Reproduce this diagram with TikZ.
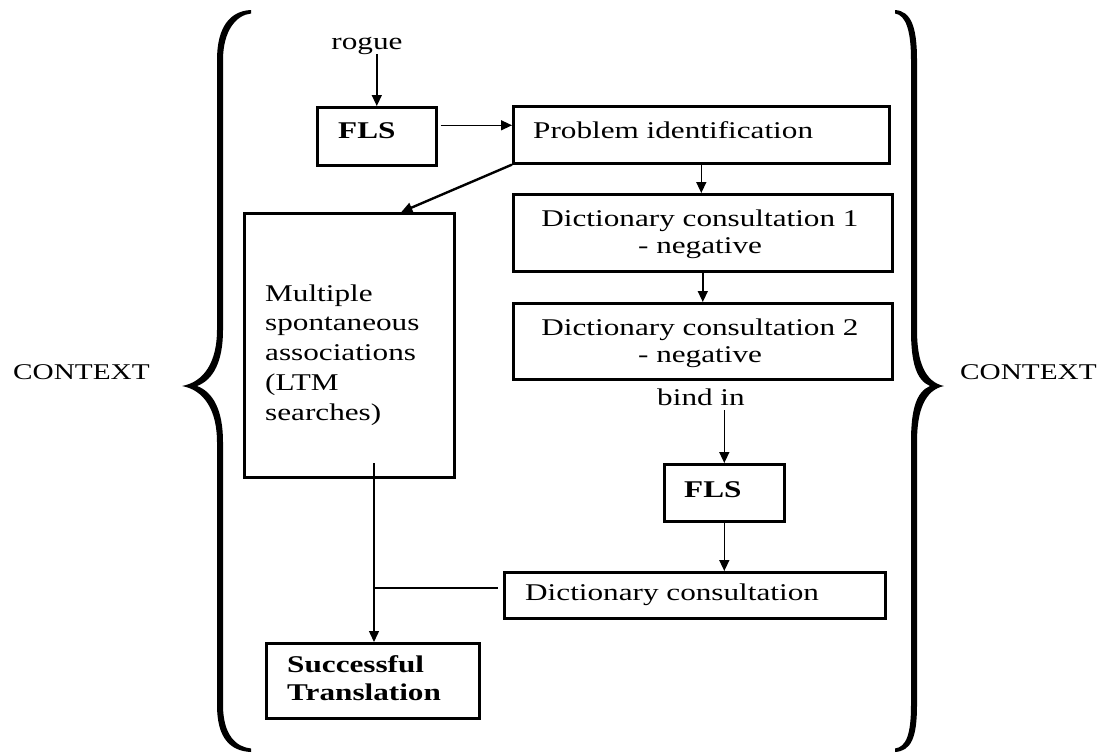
\documentclass[tikz,border=0pt]{standalone}
\usepackage{fontspec}
\setmainfont{Liberation Serif}[FakeStretch=1.3]
\usetikzlibrary{arrows.meta,calc}
\newcommand\bodysize{\fontsize{24pt}{27.5pt}\selectfont}
\newcommand\ctxsize{\fontsize{22.5pt}{26pt}\selectfont}
\begin{document}
\begin{tikzpicture}[x=1pt,y=-1pt,
  box/.style={draw, line width=2.6pt, anchor=north west, inner sep=0pt},
  lbl/.style={inner sep=0pt, font=\bodysize},
  ctx/.style={inner sep=0pt, font=\ctxsize},
  arr/.style={line width=1.4pt, -{Triangle[length=11pt,width=10pt]}},
  link/.style={line width=1.4pt}]
\useasboundingbox (0,0) rectangle (1098,753);

% curly braces enclosing the process
\fill (251,10) .. controls (230,11) and (217,27) .. (217,60) -- (217,330)
  .. controls (217,362) and (204,382) .. (182,386)
  .. controls (204,390) and (217,410) .. (217,442) -- (217,705)
  .. controls (217,738) and (230,751) .. (251,752) -- (251,748.5)
  .. controls (236,747) and (223,735) .. (223,705) -- (223,442)
  .. controls (223,410) and (213,392) .. (197,386)
  .. controls (213,380) and (223,362) .. (223,330) -- (223,60)
  .. controls (223,31) and (236,15) .. (251,13.5) -- cycle;
\fill (895,10) .. controls (911,11) and (917,27) .. (917,60) -- (917,330)
  .. controls (917,362) and (925,382) .. (944,386)
  .. controls (925,390) and (917,410) .. (917,442) -- (917,705)
  .. controls (917,738) and (911,751) .. (895,752) -- (895,748.5)
  .. controls (906,747) and (911,735) .. (911,705) -- (911,442)
  .. controls (911,410) and (916,392) .. (930,386)
  .. controls (916,380) and (911,362) .. (911,330) -- (911,60)
  .. controls (911,31) and (906,15) .. (895,13.5) -- cycle;

\node[ctx, anchor=base west] (ctxL) at (13,379) {CONTEXT};
\node[ctx, anchor=base west] (ctxR) at (960,379) {CONTEXT};

% boxes
\node[box, minimum width=119pt, minimum height=58pt] (fls1) at (316,106) {};
\node[box, minimum width=376pt, minimum height=57pt] (prob) at (512,105) {};
\node[box, minimum width=379pt, minimum height=77pt] (d1) at (512,193) {};
\node[box, minimum width=379pt, minimum height=76pt] (d2) at (512,302) {};
\node[box, minimum width=210pt, minimum height=264pt] (mult) at (243,212) {};
\node[box, minimum width=120pt, minimum height=57pt] (fls2) at (663,463) {};
\node[box, minimum width=381pt, minimum height=46pt] (dict) at (503,571) {};
\node[box, minimum width=213pt, minimum height=75pt] (succ) at (265,642) {};

% texts
\node[lbl, anchor=base] (rogue) at (367,49) {rogue};
\node[lbl, anchor=base west] (flsA) at (338,138) {\textbf{FLS}};
\node[lbl, anchor=base west] (probT) at (533,138) {Problem identification};
\node[lbl, anchor=base] (d1T) at (700,226)
  {\parbox[t]{360pt}{\centering Dictionary consultation 1\\- negative}};
\node[lbl, anchor=base] (d2T) at (700,335)
  {\parbox[t]{360pt}{\centering Dictionary consultation 2\\- negative}};
\node[lbl, anchor=base west] (multT) at (265,301)
  {\parbox[t]{185pt}{\raggedright\baselineskip=29.75pt Multiple\\spontaneous\\associations\\(LTM\\searches)}};
\node[lbl, anchor=base] (bind) at (701,405) {bind in};
\node[lbl, anchor=base west] (flsB) at (684,497) {\textbf{FLS}};
\node[lbl, anchor=base west] (dictT) at (525,600) {Dictionary consultation};
\node[lbl, anchor=base west] (succT) at (287,672)
  {\parbox[t]{185pt}{\raggedright\bfseries\baselineskip=28pt Successful\\Translation}};

% connectors
\coordinate (mstart) at (374,463);
\coordinate (junc) at (374,588);
\coordinate (dgap) at (498,588);

\draw[arr] (rogue.south -| fls1.north) -- (fls1.north);
\draw[arr] ([xshift=3pt,yshift=11pt]fls1.east) -- ([yshift=11pt]fls1.east -| prob.west);
\draw[arr, line width=2.4pt] (prob.south west) -- ([xshift=52pt]mult.north);
\draw[arr] (prob.south) -- (prob.south |- d1.north);
\draw[arr] (d1.south) -- (d1.south |- d2.north);
\draw[arr] ($(bind.south -| fls2.north)+(0,5)$) -- (fls2.north);
\draw[arr] (fls2.south) -- (fls2.south |- dict.north);
\draw[arr] (mstart) -- (mstart |- succ.north);
\draw[link] (junc) -- (dgap);
\end{tikzpicture}
\end{document}
